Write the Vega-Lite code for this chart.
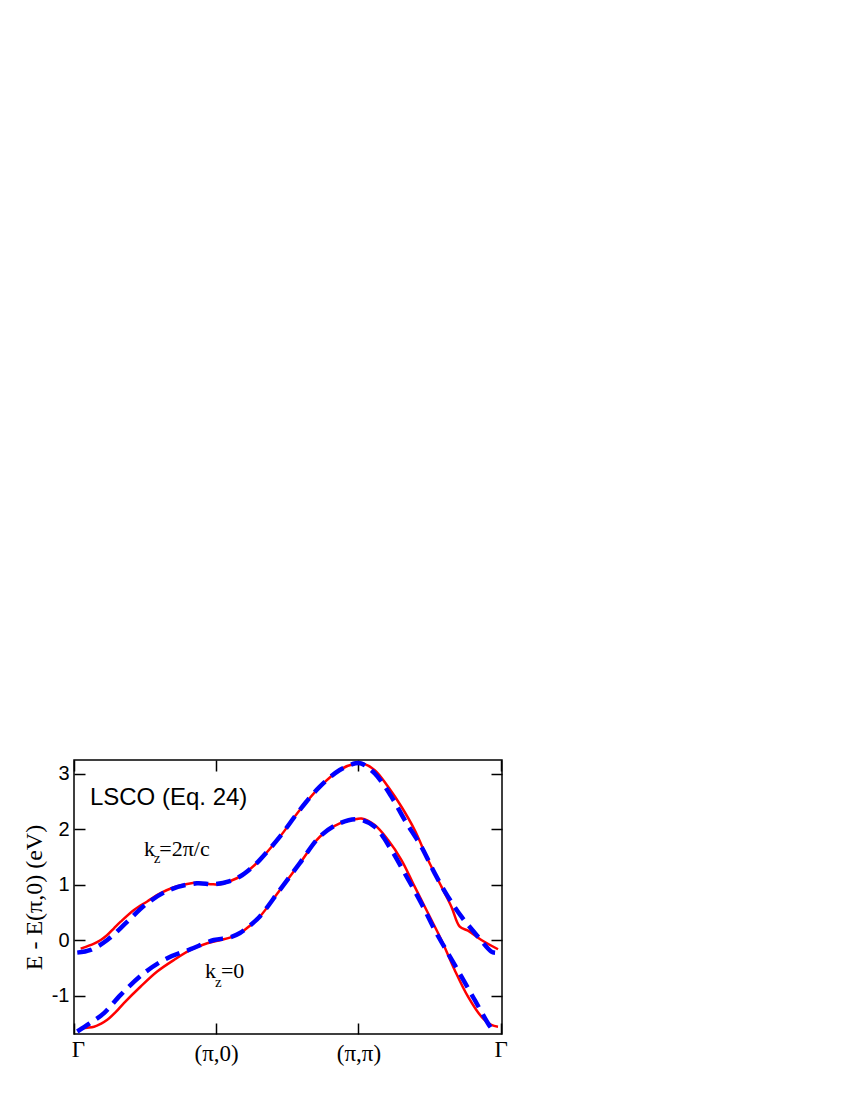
{
  "$schema": "https://vega.github.io/schema/vega-lite/v6.json",
  "autosize": {"type": "none"},
  "padding": {"left": 74, "top": 760, "right": 348, "bottom": 66},
  "width": 428,
  "height": 274,
  "background": "white",
  "config": {
    "view": {"stroke": "black", "strokeWidth": 1.5},
    "axis": {"domain": false, "grid": false, "tickColor": "black", "tickWidth": 1.5, "tickSize": -11, "labelColor": "black", "titleColor": "black"}
  },
  "datasets": {
    "curves": [
      {"k": 0.047, "E": -0.15, "band": "upper", "model": "red"},
      {"k": 0.141, "E": -0.06, "band": "upper", "model": "red"},
      {"k": 0.188, "E": 0.005, "band": "upper", "model": "red"},
      {"k": 0.234, "E": 0.095, "band": "upper", "model": "red"},
      {"k": 0.281, "E": 0.216, "band": "upper", "model": "red"},
      {"k": 0.328, "E": 0.335, "band": "upper", "model": "red"},
      {"k": 0.422, "E": 0.547, "band": "upper", "model": "red"},
      {"k": 0.515, "E": 0.7, "band": "upper", "model": "red"},
      {"k": 0.609, "E": 0.848, "band": "upper", "model": "red"},
      {"k": 0.703, "E": 0.956, "band": "upper", "model": "red"},
      {"k": 0.796, "E": 1.015, "band": "upper", "model": "red"},
      {"k": 0.866, "E": 1.035, "band": "upper", "model": "red"},
      {"k": 0.961, "E": 1.012, "band": "upper", "model": "red"},
      {"k": 1.031, "E": 1.008, "band": "upper", "model": "red"},
      {"k": 1.096, "E": 1.065, "band": "upper", "model": "red"},
      {"k": 1.167, "E": 1.146, "band": "upper", "model": "red"},
      {"k": 1.237, "E": 1.279, "band": "upper", "model": "red"},
      {"k": 1.307, "E": 1.447, "band": "upper", "model": "red"},
      {"k": 1.448, "E": 1.866, "band": "upper", "model": "red"},
      {"k": 1.588, "E": 2.347, "band": "upper", "model": "red"},
      {"k": 1.729, "E": 2.767, "band": "upper", "model": "red"},
      {"k": 1.869, "E": 3.073, "band": "upper", "model": "red"},
      {"k": 1.987, "E": 3.193, "band": "upper", "model": "red"},
      {"k": 2.022, "E": 3.195, "band": "upper", "model": "red"},
      {"k": 2.115, "E": 3.068, "band": "upper", "model": "red"},
      {"k": 2.209, "E": 2.767, "band": "upper", "model": "red"},
      {"k": 2.303, "E": 2.407, "band": "upper", "model": "red"},
      {"k": 2.396, "E": 1.987, "band": "upper", "model": "red"},
      {"k": 2.49, "E": 1.447, "band": "upper", "model": "red"},
      {"k": 2.584, "E": 0.966, "band": "upper", "model": "red"},
      {"k": 2.654, "E": 0.606, "band": "upper", "model": "red"},
      {"k": 2.713, "E": 0.245, "band": "upper", "model": "red"},
      {"k": 2.771, "E": 0.173, "band": "upper", "model": "red"},
      {"k": 2.865, "E": 0.005, "band": "upper", "model": "red"},
      {"k": 2.982, "E": -0.162, "band": "upper", "model": "red"},

      {"k": 0.047, "E": -1.584, "band": "lower", "model": "red"},
      {"k": 0.141, "E": -1.558, "band": "lower", "model": "red"},
      {"k": 0.188, "E": -1.508, "band": "lower", "model": "red"},
      {"k": 0.234, "E": -1.434, "band": "lower", "model": "red"},
      {"k": 0.293, "E": -1.297, "band": "lower", "model": "red"},
      {"k": 0.351, "E": -1.133, "band": "lower", "model": "red"},
      {"k": 0.469, "E": -0.834, "band": "lower", "model": "red"},
      {"k": 0.585, "E": -0.564, "band": "lower", "model": "red"},
      {"k": 0.703, "E": -0.355, "band": "lower", "model": "red"},
      {"k": 0.82, "E": -0.175, "band": "lower", "model": "red"},
      {"k": 0.937, "E": -0.054, "band": "lower", "model": "red"},
      {"k": 1.031, "E": 0.005, "band": "lower", "model": "red"},
      {"k": 1.096, "E": 0.047, "band": "lower", "model": "red"},
      {"k": 1.167, "E": 0.126, "band": "lower", "model": "red"},
      {"k": 1.237, "E": 0.263, "band": "lower", "model": "red"},
      {"k": 1.307, "E": 0.426, "band": "lower", "model": "red"},
      {"k": 1.448, "E": 0.906, "band": "lower", "model": "red"},
      {"k": 1.588, "E": 1.387, "band": "lower", "model": "red"},
      {"k": 1.729, "E": 1.866, "band": "lower", "model": "red"},
      {"k": 1.869, "E": 2.106, "band": "lower", "model": "red"},
      {"k": 1.987, "E": 2.185, "band": "lower", "model": "red"},
      {"k": 2.022, "E": 2.195, "band": "lower", "model": "red"},
      {"k": 2.115, "E": 2.077, "band": "lower", "model": "red"},
      {"k": 2.209, "E": 1.807, "band": "lower", "model": "red"},
      {"k": 2.303, "E": 1.447, "band": "lower", "model": "red"},
      {"k": 2.396, "E": 0.966, "band": "lower", "model": "red"},
      {"k": 2.49, "E": 0.486, "band": "lower", "model": "red"},
      {"k": 2.584, "E": 0.005, "band": "lower", "model": "red"},
      {"k": 2.677, "E": -0.535, "band": "lower", "model": "red"},
      {"k": 2.771, "E": -1.017, "band": "lower", "model": "red"},
      {"k": 2.865, "E": -1.377, "band": "lower", "model": "red"},
      {"k": 2.935, "E": -1.527, "band": "lower", "model": "red"},
      {"k": 2.982, "E": -1.558, "band": "lower", "model": "red"},

      {"k": 0.023, "E": -0.223, "band": "upper", "model": "blue"},
      {"k": 0.117, "E": -0.175, "band": "upper", "model": "blue"},
      {"k": 0.234, "E": 0.005, "band": "upper", "model": "blue"},
      {"k": 0.375, "E": 0.335, "band": "upper", "model": "blue"},
      {"k": 0.515, "E": 0.667, "band": "upper", "model": "blue"},
      {"k": 0.68, "E": 0.917, "band": "upper", "model": "blue"},
      {"k": 0.864, "E": 1.027, "band": "upper", "model": "blue"},
      {"k": 0.984, "E": 1.009, "band": "upper", "model": "blue"},
      {"k": 1.096, "E": 1.068, "band": "upper", "model": "blue"},
      {"k": 1.167, "E": 1.15, "band": "upper", "model": "blue"},
      {"k": 1.237, "E": 1.282, "band": "upper", "model": "blue"},
      {"k": 1.307, "E": 1.45, "band": "upper", "model": "blue"},
      {"k": 1.448, "E": 1.87, "band": "upper", "model": "blue"},
      {"k": 1.588, "E": 2.35, "band": "upper", "model": "blue"},
      {"k": 1.729, "E": 2.77, "band": "upper", "model": "blue"},
      {"k": 1.869, "E": 3.07, "band": "upper", "model": "blue"},
      {"k": 1.98, "E": 3.19, "band": "upper", "model": "blue"},
      {"k": 2.022, "E": 3.185, "band": "upper", "model": "blue"},
      {"k": 2.115, "E": 3.008, "band": "upper", "model": "blue"},
      {"k": 2.233, "E": 2.587, "band": "upper", "model": "blue"},
      {"k": 2.326, "E": 2.167, "band": "upper", "model": "blue"},
      {"k": 2.443, "E": 1.687, "band": "upper", "model": "blue"},
      {"k": 2.537, "E": 1.206, "band": "upper", "model": "blue"},
      {"k": 2.63, "E": 0.786, "band": "upper", "model": "blue"},
      {"k": 2.725, "E": 0.426, "band": "upper", "model": "blue"},
      {"k": 2.841, "E": 0.065, "band": "upper", "model": "blue"},
      {"k": 2.935, "E": -0.205, "band": "upper", "model": "blue"},
      {"k": 2.962, "E": -0.225, "band": "upper", "model": "blue"},

      {"k": 0.023, "E": -1.645, "band": "lower", "model": "blue"},
      {"k": 0.11, "E": -1.5, "band": "lower", "model": "blue"},
      {"k": 0.211, "E": -1.314, "band": "lower", "model": "blue"},
      {"k": 0.328, "E": -0.984, "band": "lower", "model": "blue"},
      {"k": 0.492, "E": -0.593, "band": "lower", "model": "blue"},
      {"k": 0.656, "E": -0.323, "band": "lower", "model": "blue"},
      {"k": 0.82, "E": -0.161, "band": "lower", "model": "blue"},
      {"k": 0.984, "E": 0.005, "band": "lower", "model": "blue"},
      {"k": 1.096, "E": 0.05, "band": "lower", "model": "blue"},
      {"k": 1.167, "E": 0.13, "band": "lower", "model": "blue"},
      {"k": 1.237, "E": 0.266, "band": "lower", "model": "blue"},
      {"k": 1.307, "E": 0.43, "band": "lower", "model": "blue"},
      {"k": 1.448, "E": 0.91, "band": "lower", "model": "blue"},
      {"k": 1.588, "E": 1.39, "band": "lower", "model": "blue"},
      {"k": 1.729, "E": 1.87, "band": "lower", "model": "blue"},
      {"k": 1.869, "E": 2.11, "band": "lower", "model": "blue"},
      {"k": 1.998, "E": 2.179, "band": "lower", "model": "blue"},
      {"k": 2.115, "E": 2.045, "band": "lower", "model": "blue"},
      {"k": 2.233, "E": 1.625, "band": "lower", "model": "blue"},
      {"k": 2.326, "E": 1.206, "band": "lower", "model": "blue"},
      {"k": 2.443, "E": 0.665, "band": "lower", "model": "blue"},
      {"k": 2.537, "E": 0.185, "band": "lower", "model": "blue"},
      {"k": 2.63, "E": -0.235, "band": "lower", "model": "blue"},
      {"k": 2.725, "E": -0.655, "band": "lower", "model": "blue"},
      {"k": 2.818, "E": -1.076, "band": "lower", "model": "blue"},
      {"k": 2.911, "E": -1.496, "band": "lower", "model": "blue"},
      {"k": 2.935, "E": -1.586, "band": "lower", "model": "blue"}
    ],
    "labels": [
      {"k": 0.112, "E": 2.438, "text": "LSCO (Eq. 24)", "role": "title"},
      {"k": 0.492, "E": 1.519, "text": "k", "role": "main"},
      {"k": 0.56, "E": 1.393, "text": "z", "role": "sub"},
      {"k": 0.6, "E": 1.519, "text": "=2π/c", "role": "main"},
      {"k": 0.921, "E": -0.685, "text": "k", "role": "main"},
      {"k": 0.991, "E": -0.836, "text": "z", "role": "sub"},
      {"k": 1.033, "E": -0.685, "text": "=0", "role": "main"}
    ]
  },
  "layer": [
    {
      "data": {"name": "curves"},
      "transform": [{"filter": "datum.model === 'red'"}],
      "mark": {"type": "line", "color": "#ff0000", "strokeWidth": 2.5, "interpolate": "catmull-rom"},
      "encoding": {
        "x": {"field": "k", "type": "quantitative", "scale": {"domain": [0, 3.01], "nice": false, "zero": false},
          "axis": {"orient": "bottom", "values": [0, 1, 2, 3], "title": null, "labelFont": "Liberation Serif", "labelFontSize": 23, "labelBaseline": "top", "labelFlush": false,
            "labelPadding": {"condition": {"test": "datum.value === 0 || datum.value === 3", "value": 15}, "value": 19},
            "labelOffset": {"condition": {"test": "datum.value === 0", "value": 4}, "value": 0},
            "labelExpr": "datum.value === 1 ? '(π,0)' : datum.value === 2 ? '(π,π)' : 'Γ'"}},
        "y": {"field": "E", "type": "quantitative", "scale": {"domain": [-1.69, 3.25], "nice": false, "zero": false},
          "axis": {"orient": "left", "values": [-1, 0, 1, 2, 3], "labelFont": "Liberation Sans", "labelFontSize": 20, "labelPadding": 16, "labelFlush": false,
            "labelExpr": "'' + datum.value",
            "title": "E - E(π,0) (eV)", "titleFont": "Liberation Serif", "titleFontSize": 24, "titleFontWeight": "normal", "titleAngle": -90, "titleBaseline": "alphabetic", "titleAlign": "center", "titleX": -33, "titleY": 137}},
        "detail": {"field": "band"}
      }
    },
    {
      "data": {"name": "curves"},
      "transform": [{"filter": "datum.model === 'blue'"}],
      "mark": {"type": "line", "color": "#0000ff", "strokeWidth": 4.5, "strokeDash": [15, 8], "interpolate": "catmull-rom"},
      "encoding": {
        "x": {"field": "k", "type": "quantitative", "scale": {"domain": [0, 3.01], "nice": false, "zero": false},
          "axis": {"orient": "top", "values": [0, 1, 2, 3], "labels": false, "title": null}},
        "y": {"field": "E", "type": "quantitative", "scale": {"domain": [-1.69, 3.25], "nice": false, "zero": false},
          "axis": {"orient": "right", "values": [-1, 0, 1, 2, 3], "labels": false, "title": null}},
        "detail": {"field": "band"}
      }
    },
    {
      "data": {"name": "labels"},
      "transform": [{"filter": "datum.role === 'title'"}],
      "mark": {"type": "text", "font": "Liberation Sans", "fontSize": 24, "align": "left", "baseline": "alphabetic", "color": "black"},
      "encoding": {
        "x": {"field": "k", "type": "quantitative", "axis": null},
        "y": {"field": "E", "type": "quantitative", "axis": null},
        "text": {"field": "text"}
      }
    },
    {
      "data": {"name": "labels"},
      "transform": [{"filter": "datum.role === 'main'"}],
      "mark": {"type": "text", "font": "Liberation Serif", "fontSize": 22, "align": "left", "baseline": "alphabetic", "color": "black"},
      "encoding": {
        "x": {"field": "k", "type": "quantitative", "axis": null},
        "y": {"field": "E", "type": "quantitative", "axis": null},
        "text": {"field": "text"}
      }
    },
    {
      "data": {"name": "labels"},
      "transform": [{"filter": "datum.role === 'sub'"}],
      "mark": {"type": "text", "font": "Liberation Serif", "fontSize": 15, "align": "left", "baseline": "alphabetic", "color": "black"},
      "encoding": {
        "x": {"field": "k", "type": "quantitative", "axis": null},
        "y": {"field": "E", "type": "quantitative", "axis": null},
        "text": {"field": "text"}
      }
    }
  ],
  "resolve": {"axis": {"x": "independent", "y": "independent"}}
}
